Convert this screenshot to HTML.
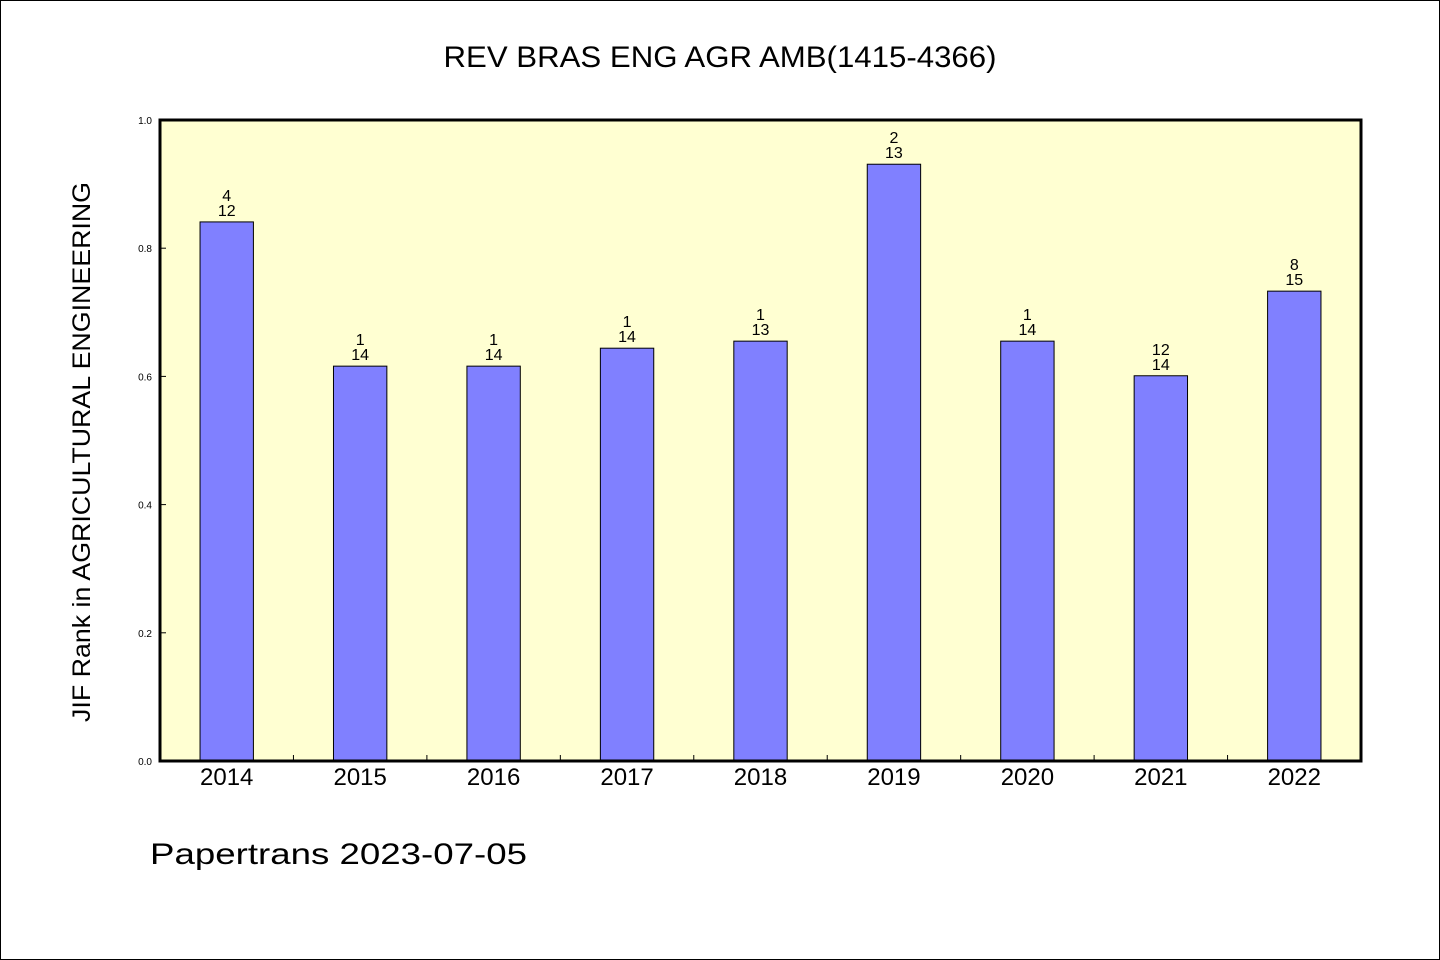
<!DOCTYPE html>
<html><head><meta charset="utf-8"><style>
html,body{margin:0;padding:0;background:#fff}
svg{display:block}
text{font-family:"Liberation Sans","WenQuanYi Zen Hei",sans-serif;fill:#000}
</style></head><body>
<svg id="chart" width="1440" height="960">
<rect x="0.5" y="0.5" width="1439" height="959" fill="#fff" stroke="#000"/>
<text x="720" y="67" font-size="30" text-anchor="middle" textLength="553" lengthAdjust="spacingAndGlyphs">REV BRAS ENG AGR AMB(1415-4366)</text>
<rect x="160" y="120" width="1201" height="641" fill="#ffffd2"/>
<g id="bars"></g>
<g id="ticks"></g>
<rect x="160" y="120" width="1201" height="641" fill="none" stroke="#000" stroke-width="3"/>
<text transform="translate(90,452) rotate(-90)" font-size="25" text-anchor="middle" textLength="540" lengthAdjust="spacingAndGlyphs">JIF Rank in AGRICULTURAL ENGINEERING</text>
<text x="150" y="864" font-size="30" textLength="377" lengthAdjust="spacingAndGlyphs">Papertrans 2023-07-05</text>
</svg>
<script>
const categories=["2014","2015","2016","2017","2018","2019","2020","2021","2022"];
const values=[0.841,0.616,0.616,0.644,0.655,0.931,0.655,0.601,0.733];
const ranks=["4","1","1","1","1","2","1","12","8"];
const totals=["12","14","14","14","13","13","14","14","15"];
const yTicks=[0,0.2,0.4,0.6,0.8,1.0];
const NS="http://www.w3.org/2000/svg";
const X0=160,X1=1361,Y0=761,Y1=120;
const step=(X1-X0)/categories.length;
const xc=i=>X0+step*(i+0.5);
const y=v=>Y0-(v/1.0)*(Y0-Y1);
function mk(tag,attrs,parent,txt){const e=document.createElementNS(NS,tag);for(const k in attrs)e.setAttribute(k,attrs[k]);if(txt!==undefined)e.textContent=txt;parent.appendChild(e);return e;}
const bars=document.getElementById('bars'),ticks=document.getElementById('ticks');
const bw=step*0.4;
categories.forEach((c,i)=>{
  const r=mk('rect',{x:xc(i)-bw/2,y:y(values[i]),width:bw,height:Y0-y(values[i]),fill:'#8080ff',stroke:'#000','stroke-width':1},bars);
  
  
  const t1=mk('text',{x:xc(i),y:y(values[i])-21,'font-size':16,'text-anchor':'middle'},bars,ranks[i]);
  
  
  const t2=mk('text',{x:xc(i),y:y(values[i])-6,'font-size':16,'text-anchor':'middle'},bars,totals[i]);
  
  
  const xl=mk('text',{x:xc(i),y:785,'font-size':24,'text-anchor':'middle'},ticks,c);
  
  
  if(i>0){const tk=mk('line',{x1:X0+step*i,x2:X0+step*i,y1:Y0,y2:Y0-6,stroke:'#000'},ticks);
  
  }
});
yTicks.forEach(v=>{
  const tk=mk('line',{x1:X0,x2:X0+6,y1:y(v),y2:y(v),stroke:'#000'},ticks);
  
  
  const tl=mk('text',{x:152,y:y(v)+4,'font-size':10,'text-anchor':'end'},ticks,v.toFixed(1));
  
  
});
</script>
</body></html>
